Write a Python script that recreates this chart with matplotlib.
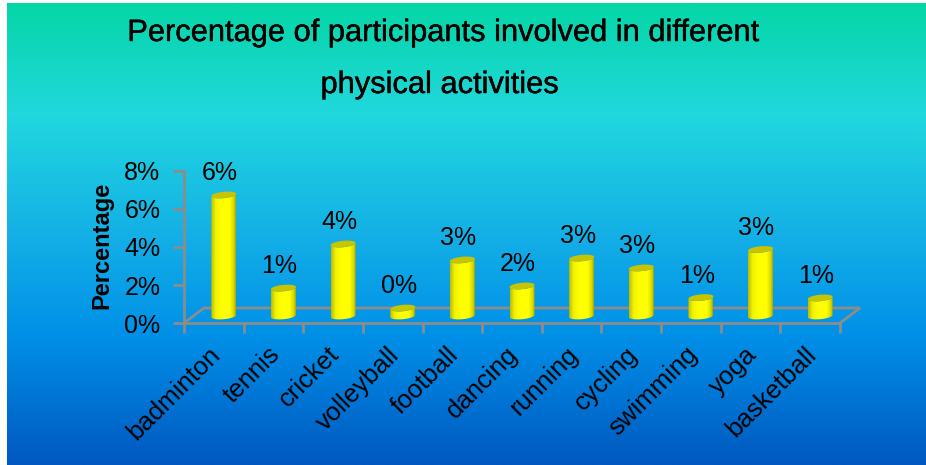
import numpy as np
import matplotlib
matplotlib.use("Agg")
import matplotlib.pyplot as plt
import matplotlib.patheffects as pe
from matplotlib.colors import LinearSegmentedColormap
from matplotlib.patches import Polygon
from matplotlib.transforms import ScaledTranslation, IdentityTransform

plt.rcParams['font.family'] = ['Liberation Sans', 'DejaVu Sans']

categories = ['badminton', 'tennis', 'cricket', 'volleyball', 'football', 'dancing',
              'running', 'cycling', 'swimming', 'yoga', 'basketball']
values = [6.37, 1.47, 3.79, 0.42, 2.95, 1.58, 3.05, 2.53, 0.97, 3.5, 0.95]
value_labels = ['6%', '1%', '4%', '0%', '3%', '2%', '3%', '3%', '1%', '3%', '1%']
y_ticks = [0, 2, 4, 6, 8]

W, H = 926, 465
GREY = '#8c8c8c'

fig = plt.figure(figsize=(W / 100, H / 100), dpi=100, facecolor='white')

# background gradient, leaves the white strip on the left and top
bg = fig.add_axes([0, 0, 1, 1], zorder=0)
bg.axis('off')
bg_cmap = LinearSegmentedColormap.from_list('bg', [
    (0.0, '#05d6a6'), (0.24, '#21d8de'), (0.5, '#14b0e6'),
    (0.72, '#0090e8'), (1.0, '#0058c0')])
bg.imshow(np.linspace(0, 1, 256).reshape(-1, 1), cmap=bg_cmap, aspect='auto',
          extent=[7, W, H, 4])
bg.set_xlim(0, W)
bg.set_ylim(H, 0)

ax = fig.add_axes([184 / W, (H - 323) / H, 656 / W, 152 / H], zorder=1)
ax.patch.set_alpha(0)
ax.set_xlim(-0.5, 10.5)
ax.set_ylim(0, 8)

for s in ['top', 'right']:
    ax.spines[s].set_visible(False)
for s in ['left', 'bottom']:
    ax.spines[s].set_color(GREY)
    ax.spines[s].set_linewidth(2)

ax.set_yticks(y_ticks)
ax.set_yticklabels(['{}%'.format(t) for t in y_ticks], fontsize=18)
ax.tick_params(axis='y', color=GREY, width=2, length=8, pad=9)

x = np.arange(len(categories))
ax.set_xticks(np.arange(-0.5, 11, 1))
ax.set_xticklabels([])
ax.tick_params(axis='x', which='major', color=GREY, width=2, length=7)
ax.set_xticks(x, minor=True)
ax.set_xticklabels(categories, minor=True, rotation=45, ha='right', va='top',
                   rotation_mode='anchor', fontsize=18.5)
ax.tick_params(axis='x', which='minor', length=0, pad=14)
shift = ScaledTranslation(-6 / 100, 0, fig.dpi_scale_trans)
for lbl in ax.get_xticklabels(minor=True):
    lbl.set_transform(lbl.get_transform() + shift)

ax.set_ylabel('Percentage', fontsize=17, fontweight='bold', labelpad=0)
ax.yaxis.set_label_coords(-0.107, 0.51)

# 3d floor
dx, dy = 20 / 59.6, 15 / 19
floor_x = [-0.5, -0.5 + dx, 10.5 + dx, 10.5]
floor_y = [0, dy, dy, 0]
ax.plot(floor_x, floor_y, color=GREY, lw=2, clip_on=False, zorder=1,
        solid_joinstyle='miter')

cyl_cmap = LinearSegmentedColormap.from_list('cyl', [
    (0.0, '#bdbd00'), (0.18, '#f2f200'), (0.4, '#ffff00'),
    (0.75, '#ffff00'), (0.92, '#d8d800'), (1.0, '#a8a800')])
grad = np.linspace(0, 1, 64).reshape(1, -1)


def draw_cylinder(ax, xc, val, zorder=3):
    # bar sits a bit back on the floor
    (px, py0) = ax.transData.transform((xc + 0.168, 0))
    py0 += 7
    py1 = ax.transData.transform((xc, val))[1] + 7
    half_w = 12.5
    half_h = 3.2
    tilt = 0.09
    t = np.linspace(0, np.pi, 40)
    ex = half_w * np.cos(t)
    ey = half_h * np.sin(t)
    # front of the base (lower half), top rim (back to front)
    low_x = px + ex[::-1] * 1.0
    low_y = py0 - ey[::-1] + tilt * ex[::-1]
    top_x = px + ex
    top_y = py1 - ey + tilt * ex
    body = np.column_stack([np.r_[low_x, top_x], np.r_[low_y, top_y]])
    patch = Polygon(body, closed=True, transform=IdentityTransform(),
                    facecolor='none', edgecolor='none', zorder=zorder)
    ax.add_patch(patch)
    im = ax.imshow(grad, cmap=cyl_cmap, aspect='auto', zorder=zorder,
                   extent=[px - half_w, px + half_w, py0 - 6, py1 + 6],
                   transform=IdentityTransform(), clip_on=True)
    im.set_clip_path(patch)
    t2 = np.linspace(0, 2 * np.pi, 60)
    cap_x = px + half_w * np.cos(t2)
    cap_y = py1 + half_h * np.sin(t2) + tilt * half_w * np.cos(t2)
    ax.add_patch(Polygon(np.column_stack([cap_x, cap_y]), closed=True,
                         transform=IdentityTransform(), facecolor='#c8c400',
                         edgecolor='none', zorder=zorder + 1))
    return px, py1


fig.canvas.draw()
for i, (v, lab) in enumerate(zip(values, value_labels)):
    px, py = draw_cylinder(ax, x[i], v)
    ax.annotate(lab, xy=(x[i], v), xycoords='data', xytext=(6, 17),
                textcoords='offset pixels', ha='center', va='bottom',
                fontsize=18, annotation_clip=False, zorder=6)

ax.set_xlim(-0.5, 10.5)
ax.set_ylim(0, 8)

stroke = [pe.withStroke(linewidth=0.3, foreground='black')]
fig.text(444 / W, 1 - 33 / H, 'Percentage of participants involved in different',
         ha='center', va='center', fontsize=22.2, path_effects=stroke)
fig.text(440 / W, 1 - 85 / H, 'physical activities', ha='center', va='center',
         fontsize=22.2, path_effects=stroke)

fig.savefig('out.png', dpi=100)
